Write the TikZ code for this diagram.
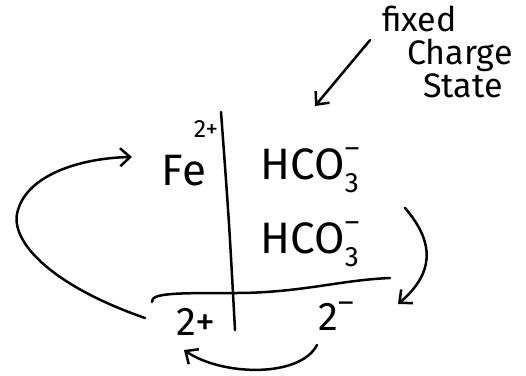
\documentclass[tikz,border=0pt]{standalone}
\usepackage{fontspec}
\setmainfont{Fira Sans}
\usetikzlibrary{arrows.meta}

\begin{document}
\begin{tikzpicture}[x=1pt,y=-1pt,line cap=round,line join=round,
  ink/.style={line width=2.5pt},
  big/.style={font=\fontsize{44}{44}\selectfont,inner sep=0pt},
  mid/.style={font=\fontsize{40}{40}\selectfont,inner sep=0pt},
  tiny/.style={font=\fontsize{25}{25}\selectfont,inner sep=0pt},
  note/.style={font=\fontsize{34}{33}\selectfont,inner sep=0pt,align=left},
  barb/.style={ink,-{Straight Barb[length=10pt,width=18pt,line width=2.5pt]}}]
  \useasboundingbox (0,0) rectangle (526,375);
  % the cross of the table
  \draw[ink] (221,112) .. controls (229,220) .. (235,330);
  \draw[ink] (152,302) .. controls (151,293) and (175,293) .. (235,293)
    .. controls (300,293) and (340,280) .. (390,278);
  % top row
  \node[big] (fe) at (184,171) {Fe};
  \node[tiny] (fecharge) at (206,129) {2+};
  \node[big] (hcoa) at (310,170) {HCO\rlap{\raisebox{-0.3em}{\fontsize{28}{28}\selectfont 3}}\raisebox{0.5em}{\fontsize{28}{28}\selectfont –}};
  \node[big] (hcob) at (310,244) {HCO\rlap{\raisebox{-0.3em}{\fontsize{28}{28}\selectfont 3}}\raisebox{0.5em}{\fontsize{28}{28}\selectfont –}};
  % bottom row
  \node[mid] (lowplus) at (196,322) {2+};
  \node[mid] (lowminus) at (336,316) {2\raisebox{0.45em}{\fontsize{30}{30}\selectfont –}};
  % remark
  \node[note,anchor=north west] (remark) at (382,6) {fixed\\\hspace*{25pt}Charge\\\hspace*{41pt}State};
  \coordinate (gap) at (315,106);
  \draw[barb] ([shift={(-12,-12)}]remark.west) -- (gap);
  % arrows round the table
  \draw[barb] ([shift={(-51,-4)}]lowplus.center) .. controls (50,285) and (8,240) .. (18,210)
    .. controls (28,175) and (80,158) .. ([shift={(-52,-14)}]fe.center);
  \draw[barb] ([shift={(95,-36)}]hcob.center) .. controls (437,245) and (432,275) .. ([shift={(62,-12)}]lowminus.center);
  \draw[barb] ([shift={(-19,29)}]lowminus.center) .. controls (300,378) and (222,376) .. ([shift={(-12,28)}]lowplus.center);
\end{tikzpicture}
\end{document}
